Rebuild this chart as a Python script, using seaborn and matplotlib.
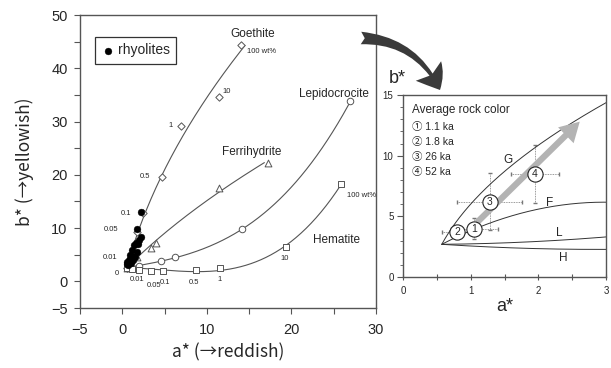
import numpy as np
import matplotlib
matplotlib.use('Agg')
import matplotlib.pyplot as plt
import seaborn as sns
from matplotlib.patches import FancyArrowPatch

sns.set_theme(style='ticks')
plt.rcParams['font.family'] = ['Liberation Sans', 'Noto Sans CJK JP', 'DejaVu Sans']

# ---- data ----
origin_a, origin_b = 0.55, 2.6   # unpigmented rock ("0")

goethite_a = [0.55, 1.0, 1.8, 2.4, 4.7, 7.0, 11.4, 14.1]
goethite_b = [2.6, 4.5, 9.3, 12.8, 19.6, 29.2, 34.7, 44.3]
goethite_lbl = ['0', '0.01', '0.05', '0.1', '0.5', '1', '10', '100 wt%']

ferri_a = [0.55, 1.8, 3.4, 4.0, 11.4, 17.2]
ferri_b = [2.6, 4.5, 6.2, 7.2, 17.5, 22.3]

lepido_a = [0.55, 2.0, 4.6, 6.2, 14.2, 27.0]
lepido_b = [2.6, 2.8, 3.8, 4.5, 9.8, 33.8]

hema_a = [0.55, 1.2, 2.0, 3.4, 4.8, 8.7, 11.6, 19.4, 25.9]
hema_b = [2.6, 2.4, 2.2, 1.9, 1.9, 2.1, 2.5, 6.4, 18.3]
hema_lbl = ['', '', '0.01', '0.05', '0.1', '0.5', '1', '10', '100 wt%']

rhyo_a = [2.2, 1.8, 2.2, 2.0, 1.6, 1.4, 1.2, 1.7, 1.1, 1.5, 0.8, 0.6, 1.0, 0.5, 1.3, 0.9, 1.9, 0.7]
rhyo_b = [13.0, 9.8, 8.3, 7.7, 7.3, 6.8, 5.8, 5.5, 4.7, 4.5, 4.1, 3.6, 3.4, 3.2, 4.0, 5.0, 7.0, 3.0]

# curves of the zoomed panel (G, F, L, H)
in_origin_a, in_origin_b = 0.57, 2.7
in_g_a = [0.77, 1.01, 1.28, 1.61, 1.95, 2.34, 2.69, 3.03]
in_g_b = [4.4, 6.1, 8.0, 9.3, 10.5, 12.0, 13.2, 14.65]
in_f_a = [0.87, 1.36, 2.15, 3.03]
in_f_b = [3.54, 4.7, 5.66, 6.2]
in_l_a = [1.2, 1.85, 3.03]
in_l_b = [2.75, 2.91, 3.32]
in_h_a = [1.36, 2.2, 3.03]
in_h_b = [2.45, 2.33, 2.28]

age_lbl = ['1.1 ka', '1.8 ka', '26 ka', '52 ka']
rock_a = [1.05, 0.80, 1.28, 1.95]
rock_b = [4.0, 3.7, 6.2, 8.5]
rock_aerr = [0.35, 0.23, 0.48, 0.35]
rock_berr = [0.9, 0.5, 2.35, 2.4]
trend_start = (1.09, 4.5)
trend_end = (2.61, 12.8)


def fit_curve(x, y, x0, y0, deg, xmax):
    # polynomial through the common starting point
    dx = np.asarray(x) - x0
    dy = np.asarray(y) - y0
    A = np.column_stack([dx ** k for k in range(1, deg + 1)])
    coef = np.linalg.lstsq(A, dy, rcond=None)[0]
    t = np.linspace(0, xmax - x0, 300)
    return x0 + t, y0 + sum(c * t ** (k + 1) for k, c in enumerate(coef))


LC = '#555555'
fig = plt.figure(figsize=(6.11, 3.68), dpi=100)
ax = fig.add_axes([0.131, 0.163, 0.484, 0.796])

# goethite / ferrihydrite: a as function of b ; lepidocrocite / hematite: b as function of a
gb, ga = fit_curve(goethite_b, goethite_a, origin_b, origin_a, 2, max(goethite_b))
fb, fa = fit_curve(ferri_b, ferri_a, origin_b, origin_a, 2, max(ferri_b))
la, lb = fit_curve(lepido_a, lepido_b, origin_a, origin_b, 3, max(lepido_a))
ha, hb = fit_curve(hema_a, hema_b, origin_a, origin_b, 3, max(hema_a))
for xa, yb in [(ga, gb), (fa, fb), (la, lb), (ha, hb)]:
    sns.lineplot(x=xa, y=yb, sort=False, estimator=None, color=LC, lw=0.8, ax=ax)

for xs, ys, m, s in [(goethite_a, goethite_b, 'D', 14), (ferri_a, ferri_b, '^', 24),
                     (lepido_a, lepido_b, 'o', 22), (hema_a, hema_b, 's', 22)]:
    sns.scatterplot(x=xs, y=ys, marker=m, s=s, facecolor='white', edgecolor=LC,
                    linewidth=0.7, ax=ax, zorder=3)

sns.scatterplot(x=rhyo_a, y=rhyo_b, color='black', s=24, edgecolor='black',
                linewidth=0.3, ax=ax, zorder=4, label='rhyolites')

g_off = [(-9, -4), (-20, 0), (-24, 2), (-16, 0), (-16, 0), (-9, 0), (3, 4), (4, -4)]
for x, y, t, o in zip(goethite_a, goethite_b, goethite_lbl, g_off):
    ax.annotate(t, (x, y), xytext=o, textcoords='offset points', fontsize=5.5,
                ha='left', va='center')
h_off = [(0, 0), (0, 0), (-7, -7), (-3, -10), (-2, -8), (-5, -9), (-2, -8), (-4, -8), (4, -8)]
for x, y, t, o in zip(hema_a, hema_b, hema_lbl, h_off):
    if t:
        ax.annotate(t, (x, y), xytext=o, textcoords='offset points', fontsize=5.5,
                    ha='left', va='center')

for name, x, y in [('Goethite', 15.4, 46.4), ('Lepidocrocite', 25.1, 35.1),
                   ('Ferrihydrite', 15.3, 24.3), ('Hematite', 25.4, 7.7)]:
    ax.text(x, y, name, fontsize=8.5, ha='center', va='center')

ax.set_xlim(-5, 30)
ax.set_ylim(-5, 50)
ax.set_xticks(np.arange(-5, 31, 5))
ax.set_xticklabels(['\u22125', '0', '', '10', '', '20', '', '30'])
ax.set_yticks(np.arange(-5, 51, 5))
ax.set_yticklabels(['\u22125', '0', '', '10', '', '20', '', '30', '', '40', '', '50'])
ax.tick_params(direction='out', length=4, width=0.8, color=LC, labelsize=10.5)
ax.tick_params(axis='x', pad=7)
ax.tick_params(axis='y', pad=5)
for sp in ax.spines.values():
    sp.set_color(LC)
    sp.set_linewidth(1.0)
lab_font = ['Noto Sans CJK JP', 'DejaVu Sans']
ax.set_xlabel('a* (\u2192reddish)', fontsize=12.5, labelpad=4, family=lab_font)
ax.set_ylabel('b* (\u2192yellowish)', fontsize=12.5, labelpad=12, family=lab_font)
leg = ax.legend(loc='upper left', bbox_to_anchor=(0.05, 0.925), fontsize=10,
                frameon=True, fancybox=False, edgecolor='black', handletextpad=0.2,
                borderpad=0.45, handlelength=1.0, borderaxespad=0)
leg.get_frame().set_linewidth(0.9)

# ---- zoomed panel ----
ax2 = fig.add_axes([0.660, 0.247, 0.332, 0.495])
igb, iga = fit_curve(in_g_b, in_g_a, in_origin_b, in_origin_a, 2, 16)
ifa, ifb = fit_curve(in_f_a, in_f_b, in_origin_a, in_origin_b, 2, 3.2)
ila, ilb = fit_curve(in_l_a, in_l_b, in_origin_a, in_origin_b, 2, 3.2)
iha, ihb = fit_curve(in_h_a, in_h_b, in_origin_a, in_origin_b, 2, 3.2)
for xa, yb in [(iga, igb), (ifa, ifb), (ila, ilb), (iha, ihb)]:
    sns.lineplot(x=xa, y=yb, sort=False, estimator=None, color='#333333', lw=0.7, ax=ax2)

ax2.errorbar(rock_a, rock_b, xerr=rock_aerr, yerr=rock_berr, fmt='none',
             ecolor='#777777', elinewidth=0.6, capsize=1.2, zorder=1)
for bars in ax2.containers:
    for lc in bars.lines[2]:
        lc.set_linestyle((0, (1, 1)))

ax2.add_patch(FancyArrowPatch(trend_start, trend_end,
                              arrowstyle='simple,head_length=14,head_width=16,tail_width=4.5',
                              color='#b3b3b3', lw=0, zorder=2, shrinkA=0, shrinkB=0))
sns.scatterplot(x=rock_a, y=rock_b, s=120, facecolor='white', edgecolor='#222222',
                linewidth=0.8, ax=ax2, zorder=3)
for i, (x, y) in enumerate(zip(rock_a, rock_b)):
    ax2.text(x, y, str(i + 1), fontsize=7.5, ha='center', va='center', zorder=4)

for name, x, y in [('G', 1.55, 9.65), ('F', 2.17, 6.1), ('L', 2.3, 3.6), ('H', 2.37, 1.6)]:
    ax2.text(x, y, name, fontsize=8.5, ha='center', va='center')

ax2.text(0.045, 0.918, 'Average rock color', transform=ax2.transAxes, fontsize=8.5,
         va='center')
circled = ['\u2460', '\u2461', '\u2462', '\u2463']
for i, t in enumerate(age_lbl):
    ax2.text(0.045, 0.824 - i * 0.083, circled[i] + ' ' + t, transform=ax2.transAxes,
             fontsize=7.5, va='center')

ax2.set_xlim(0, 3)
ax2.set_ylim(0, 15)
ax2.set_xticks([0, 1, 2, 3])
ax2.set_xticks(np.arange(0.5, 3, 1.0), minor=True)
ax2.set_yticks([0, 5, 10, 15])
ax2.set_yticks(np.arange(0, 15, 1), minor=True)
ax2.tick_params(axis='x', which='both', direction='inout', length=5, width=0.8,
                color=LC, labelsize=7, pad=4)
ax2.tick_params(axis='y', which='major', direction='out', length=4, width=0.8,
                color=LC, labelsize=7, pad=3)
ax2.tick_params(axis='y', which='minor', direction='out', length=2, width=0.6, color=LC)
for sp in ax2.spines.values():
    sp.set_color(LC)
    sp.set_linewidth(1.0)

fig.text(0.650, 0.788, 'b*', fontsize=13, ha='center', va='center')
fig.text(0.826, 0.168, 'a*', fontsize=13, ha='center', va='center')

# big curved arrow from the main plot to the zoomed panel
fig.patches.append(FancyArrowPatch((361 / 611, 1 - 38 / 368), (440 / 611, 1 - 90 / 368),
                                   transform=fig.transFigure,
                                   connectionstyle='arc3,rad=-0.3',
                                   arrowstyle='fancy,head_length=16,head_width=23,tail_width=9',
                                   color='#3a3a3a', lw=0, shrinkA=0, shrinkB=0))

fig.savefig('out.png', dpi=100)
